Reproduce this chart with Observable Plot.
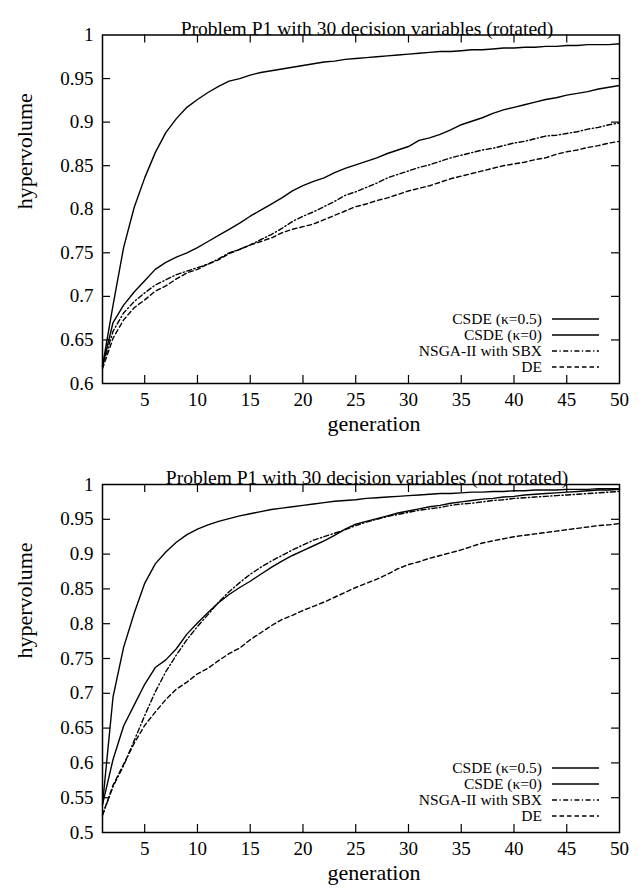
<!DOCTYPE html>
<html><head><meta charset="utf-8">
<script src="https://cdn.jsdelivr.net/npm/d3@7"></script>
<script src="https://cdn.jsdelivr.net/npm/@observablehq/plot@0.6"></script>
<style>
body{margin:0;background:#fff;font-family:"Liberation Serif","Times New Roman",serif;}
.chart{position:relative;width:643px;}
.chart svg{display:block;}
</style></head><body>
<div id="c1" class="chart"></div>
<div id="c2" class="chart"></div>
<script>
const generations = d3.range(1, 51);
const seriesNames = ["CSDE (κ=0.5)", "CSDE (κ=0)", "NSGA-II with SBX", "DE"];
const xTicks = [5, 10, 15, 20, 25, 30, 35, 40, 45, 50];
const yTicksRot = [0.6, 0.65, 0.7, 0.75, 0.8, 0.85, 0.9, 0.95, 1];
const yTicksNR = [0.5, 0.55, 0.6, 0.65, 0.7, 0.75, 0.8, 0.85, 0.9, 0.95, 1];

// Top chart: rotated
const csde05Rot = [0.620,0.690,0.756,0.802,0.836,0.865,0.888,0.904,0.917,0.926,0.934,0.941,0.947,0.950,0.954,0.957,0.959,0.961,0.963,0.965,0.967,0.969,0.970,0.972,0.973,0.974,0.975,0.976,0.977,0.978,0.979,0.980,0.981,0.981,0.982,0.983,0.983,0.984,0.985,0.985,0.986,0.986,0.987,0.987,0.988,0.988,0.989,0.989,0.989,0.990];
const csde0Rot = [0.620,0.670,0.690,0.705,0.718,0.731,0.739,0.745,0.750,0.756,0.763,0.770,0.777,0.784,0.792,0.799,0.806,0.813,0.821,0.827,0.832,0.836,0.842,0.847,0.851,0.855,0.859,0.864,0.868,0.872,0.879,0.882,0.886,0.891,0.897,0.901,0.905,0.910,0.914,0.917,0.920,0.923,0.926,0.928,0.931,0.933,0.935,0.938,0.940,0.942];
const nsgaRot = [0.620,0.660,0.681,0.694,0.704,0.713,0.719,0.725,0.729,0.733,0.737,0.743,0.750,0.754,0.759,0.765,0.771,0.778,0.786,0.792,0.797,0.803,0.809,0.816,0.820,0.825,0.830,0.836,0.840,0.844,0.848,0.851,0.855,0.859,0.862,0.865,0.868,0.870,0.873,0.876,0.878,0.881,0.884,0.885,0.887,0.889,0.892,0.894,0.897,0.899];
const deRot = [0.617,0.652,0.673,0.687,0.696,0.706,0.712,0.720,0.727,0.731,0.737,0.742,0.749,0.754,0.759,0.763,0.767,0.773,0.777,0.780,0.783,0.788,0.793,0.798,0.803,0.806,0.810,0.813,0.817,0.821,0.824,0.827,0.831,0.835,0.838,0.841,0.844,0.847,0.850,0.852,0.854,0.857,0.859,0.863,0.866,0.868,0.871,0.873,0.876,0.878];

// Bottom chart: not rotated
const csde05NR = [0.540,0.695,0.766,0.815,0.858,0.886,0.903,0.917,0.928,0.936,0.942,0.947,0.951,0.955,0.958,0.961,0.964,0.966,0.968,0.970,0.972,0.974,0.976,0.977,0.978,0.980,0.981,0.982,0.983,0.984,0.985,0.986,0.987,0.987,0.988,0.989,0.989,0.990,0.990,0.991,0.991,0.992,0.992,0.992,0.993,0.993,0.993,0.994,0.994,0.994];
const csde0NR = [0.540,0.605,0.653,0.683,0.713,0.737,0.748,0.764,0.785,0.801,0.816,0.830,0.842,0.852,0.861,0.871,0.881,0.890,0.898,0.905,0.912,0.919,0.927,0.936,0.943,0.947,0.951,0.955,0.959,0.962,0.965,0.968,0.970,0.973,0.975,0.977,0.979,0.980,0.982,0.983,0.985,0.986,0.987,0.988,0.989,0.990,0.991,0.992,0.992,0.993];
const nsgaNR = [0.525,0.566,0.596,0.632,0.668,0.702,0.731,0.755,0.777,0.796,0.813,0.831,0.846,0.859,0.871,0.881,0.890,0.898,0.906,0.913,0.920,0.925,0.930,0.935,0.941,0.946,0.950,0.954,0.957,0.960,0.963,0.965,0.967,0.970,0.972,0.973,0.975,0.977,0.978,0.980,0.981,0.982,0.983,0.984,0.985,0.986,0.987,0.988,0.989,0.990];
const deNR = [0.525,0.568,0.598,0.628,0.654,0.673,0.691,0.706,0.716,0.728,0.736,0.747,0.757,0.765,0.777,0.787,0.797,0.806,0.812,0.819,0.825,0.831,0.838,0.845,0.852,0.858,0.864,0.871,0.879,0.885,0.889,0.894,0.898,0.902,0.906,0.911,0.916,0.919,0.922,0.925,0.927,0.929,0.931,0.933,0.935,0.937,0.939,0.941,0.942,0.944];

const dashes = [null, null, "5,2.5,1.2,2.5", "4.5,3"];
const FONT = "Liberation Serif";

function makeChart(el, {title, values, yDomain, yTicks, height, marginTop, marginBottom}) {
  const width = 643, marginLeft = 102, marginRight = 24;
  const frameW = width - marginLeft - marginRight;
  const frameH = height - marginTop - marginBottom;
  const lineMarks = values.map((vals, i) =>
    Plot.line(generations.map((g, j) => ({gen: g, value: vals[j]})), {
      x: "gen", y: "value", stroke: "#000", strokeWidth: 1.4,
      strokeDasharray: dashes[i] || undefined, strokeLinejoin: "round"
    }));
  const inner = xTicks.filter(d => d < 50);
  const innerY = yTicks.filter(d => d > yDomain[0] && d < yDomain[1]);
  const chart = Plot.plot({
    width, height, marginLeft, marginRight, marginTop, marginBottom,
    style: {fontFamily: FONT, fontSize: "19px", color: "#000", background: "#fff"},
    x: {domain: [1, 50]},
    y: {domain: yDomain},
    marks: [
      Plot.tickX(inner, {x: d => d, insetTop: frameH - 8, stroke: "#000", strokeWidth: 1.2}),
      Plot.tickX(inner, {x: d => d, insetBottom: frameH - 8, stroke: "#000", strokeWidth: 1.2}),
      Plot.tickY(innerY, {y: d => d, insetRight: frameW - 8, stroke: "#000", strokeWidth: 1.2}),
      Plot.tickY(innerY, {y: d => d, insetLeft: frameW - 8, stroke: "#000", strokeWidth: 1.2}),
      Plot.axisX(xTicks, {anchor: "bottom", tickSize: 0, tickPadding: 9, label: null, fontSize: 19, tickFormat: d => String(d)}),
      Plot.axisY(yTicks, {anchor: "left", tickSize: 0, tickPadding: 9, label: null, fontSize: 19, tickFormat: d => String(d)}),
      ...lineMarks,
      Plot.frame({stroke: "#000", strokeWidth: 1.5}),
      Plot.text([title], {frameAnchor: "top", dy: -14, dx: 6, fontSize: 19.5, fill: "#000"}),
      Plot.text(["generation"], {frameAnchor: "bottom", dy: 47, dx: 13, fontSize: 22, fill: "#000"}),
      Plot.text(["hypervolume"], {frameAnchor: "left", dx: -78, rotate: -90, fontSize: 22, fill: "#000"})
    ]
  });
  el.appendChild(chart);

  // legend overlay (inside frame, lower right)
  const svg = d3.select(el).append("svg")
    .attr("width", width).attr("height", height)
    .style("position", "absolute").style("left", "0px").style("top", "0px")
    .style("pointer-events", "none");
  seriesNames.forEach((name, i) => {
    const cy = marginTop + frameH - 64 + 16 * i;
    svg.append("text").attr("x", 542).attr("y", cy).attr("dy", "0.35em")
      .attr("text-anchor", "end").attr("font-family", FONT).attr("font-size", 15.5)
      .attr("fill", "#000").text(name);
    svg.append("line").attr("x1", 552).attr("x2", 599).attr("y1", cy).attr("y2", cy)
      .attr("stroke", "#000").attr("stroke-width", 1.4)
      .attr("stroke-dasharray", dashes[i] || null);
  });
}

makeChart(document.getElementById("c1"), {
  title: "Problem P1 with 30 decision variables (rotated)",
  values: [csde05Rot, csde0Rot, nsgaRot, deRot],
  yDomain: [0.6, 1], yTicks: yTicksRot,
  height: 445, marginTop: 34.5, marginBottom: 62
});
makeChart(document.getElementById("c2"), {
  title: "Problem P1 with 30 decision variables (not rotated)",
  values: [csde05NR, csde0NR, nsgaNR, deNR],
  yDomain: [0.5, 1], yTicks: yTicksNR,
  height: 446, marginTop: 39, marginBottom: 59
});
</script>
</body></html>
